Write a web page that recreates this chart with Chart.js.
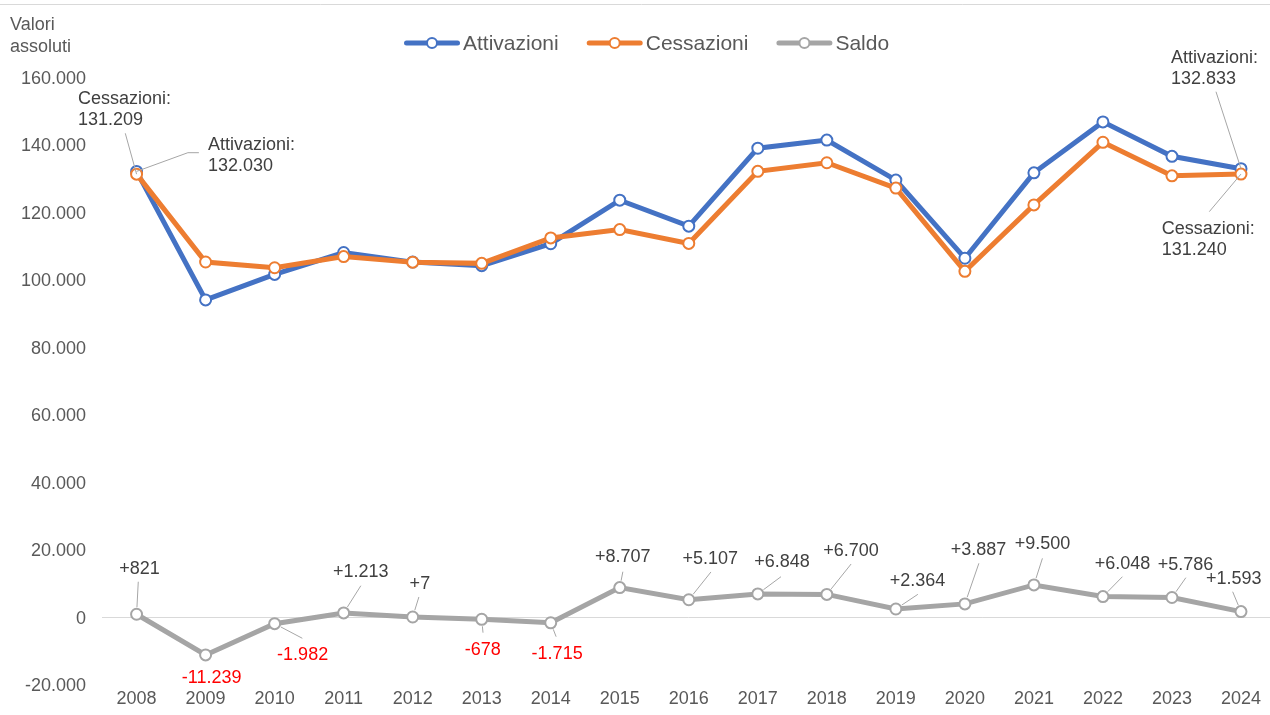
<!DOCTYPE html>
<html>
<head>
<meta charset="utf-8">
<script src="https://cdn.jsdelivr.net/npm/chart.js@4.4.1/dist/chart.umd.min.js"></script>
<style>
  html, body { margin: 0; padding: 0; background: #fff; overflow: hidden; }
  #box { position: relative; width: 1283px; height: 715px; }
</style>
</head>
<body>
<div id="box"><canvas id="grafico" width="1283" height="715"></canvas></div>
<script>
// Dati
const anni = ['2008', '2009', '2010', '2011', '2012', '2013', '2014', '2015', '2016',
              '2017', '2018', '2019', '2020', '2021', '2022', '2023', '2024'];
const attivazioni = [132030, 93950, 101500, 108000, 105150, 104100, 110600, 123500, 115800,
                     138900, 141300, 129450, 106300, 131600, 146700, 136500, 132833];
const cessazioni = [131209, 105189, 103482, 106787, 105143, 104778, 112315, 114793, 110693,
                    132052, 134600, 127086, 102413, 122100, 140652, 130714, 131240];
const saldo = [821, -11239, -1982, 1213, 7, -678, -1715, 8707, 5107,
               6848, 6700, 2364, 3887, 9500, 6048, 5786, 1593];

const nomiSerie = ['Attivazioni', 'Cessazioni', 'Saldo'];
const coloriSerie = ['#4472c4', '#ed7d31', '#a5a5a5'];

const yMin = -20000;
const yMax = 160000;
const yPasso = 20000;

// Posizione delle etichette del saldo rispetto al punto: [dx testo, dy testo, dx guida, dy guida]
const posSaldo = [
  [3, -46.5, 1.7, -32.5], [6, 21.8, null, null], [28, 30.3, 27.7, 14.6], [17.2, -41.9, 17.2, -27.2],
  [7.2, -34.3, 6.2, -20], [1.1, 29.7, 1.3, 13.4], [6.4, 30.2, 5.4, 13.9], [3.1, -31.6, 3.1, -15.9],
  [21.5, -41.8, 22.2, -27.8], [24.2, -33.2, 23.2, -17.2], [24.1, -44.4, 24.3, -30.4], [21.7, -29, 22, -14.7],
  [13.7, -54.9, 14, -40.6], [8.5, -42.2, 8.5, -26.6], [19.5, -33.9, 19.5, -19.9], [13.6, -33.5, 13.9, -19.8],
  [-7.3, -33.3, -8.3, -19.9]
];

// Etichette di inizio e fine per Attivazioni / Cessazioni
const etichetteEstremi = [
  { serie: 0, i: 0, dx: 71.3, dy: -27.4, guida: [[51.3, -18.7], [62.3, -18.7]] },
  { serie: 1, i: 0, dx: -58.7, dy: -75.9, guida: [[-11.3, -40.9]] },
  { serie: 0, i: 16, dx: -70, dy: -112, guida: [[-25, -77]] },
  { serie: 1, i: 16, dx: -79.3, dy: 54.2, guida: [[-31.7, 37.6]] }
];

const FONT = '"Liberation Sans", Arial, sans-serif';
Chart.defaults.font.family = FONT;

function formatta(v, segno) {
  const s = Math.abs(Math.round(v)).toString().replace(/\B(?=(\d{3})+(?!\d))/g, '.');
  if (v < 0) return '-' + s;
  if (segno && v > 0) return '+' + s;
  return s;
}

const pluginEtichette = {
  id: 'etichette',
  afterDatasetsDraw(chart) {
    const ctx = chart.ctx;
    ctx.save();
    ctx.font = '18px ' + FONT;
    ctx.textBaseline = 'middle';
    ctx.strokeStyle = '#a6a6a6';
    ctx.lineWidth = 1;

    // etichette saldo
    const metaS = chart.getDatasetMeta(2);
    saldo.forEach(function (v, i) {
      const p = metaS.data[i];
      const pos = posSaldo[i];
      if (pos[2] !== null) {
        const len = Math.hypot(pos[2], pos[3]);
        ctx.beginPath();
        ctx.moveTo(p.x + pos[2], p.y + pos[3]);
        ctx.lineTo(p.x + pos[2] / len * 7, p.y + pos[3] / len * 7);
        ctx.stroke();
      }
      ctx.fillStyle = v < 0 ? '#ff0000' : '#404040';
      ctx.textAlign = 'center';
      ctx.fillText(formatta(v, true), p.x + pos[0], p.y + pos[1] + 1);
    });

    // etichette estremi
    etichetteEstremi.forEach(function (e) {
      const p = chart.getDatasetMeta(e.serie).data[e.i];
      const valore = chart.data.datasets[e.serie].data[e.i];
      ctx.beginPath();
      ctx.moveTo(p.x, p.y);
      e.guida.forEach(function (g) { ctx.lineTo(p.x + g[0], p.y + g[1]); });
      ctx.stroke();
      ctx.fillStyle = '#404040';
      ctx.textAlign = 'left';
      ctx.fillText(nomiSerie[e.serie] + ':', p.x + e.dx, p.y + e.dy + 1);
      ctx.fillText(formatta(valore), p.x + e.dx, p.y + e.dy + 22);
    });
    ctx.restore();
  },
  afterDraw(chart) {
    const ctx = chart.ctx;
    ctx.save();
    // linea superiore
    ctx.strokeStyle = '#d9d9d9';
    ctx.lineWidth = 1;
    ctx.beginPath();
    ctx.moveTo(0, 4.5);
    ctx.lineTo(chart.width, 4.5);
    ctx.stroke();

    // titolo asse
    ctx.fillStyle = '#595959';
    ctx.font = '18px ' + FONT;
    ctx.textAlign = 'left';
    ctx.textBaseline = 'middle';
    ctx.fillText('Valori', 10, 25);
    ctx.fillText('assoluti', 10, 47);

    // legenda
    ctx.font = '21px ' + FONT;
    let x = 404;
    const y = 43;
    chart.data.datasets.forEach(function (ds) {
      ctx.strokeStyle = ds.borderColor;
      ctx.lineWidth = 5;
      ctx.lineCap = 'round';
      ctx.beginPath();
      ctx.moveTo(x + 2.5, y);
      ctx.lineTo(x + 53.5, y);
      ctx.stroke();
      ctx.lineWidth = 2;
      ctx.fillStyle = '#ffffff';
      ctx.beginPath();
      ctx.arc(x + 28, y, 5, 0, Math.PI * 2);
      ctx.fill();
      ctx.stroke();
      ctx.fillStyle = '#595959';
      ctx.fillText(ds.label, x + 59, y + 1);
      x += 59 + ctx.measureText(ds.label).width + 28;
    });
    ctx.restore();
  }
};

function serie(i, dati, ordine) {
  return {
    label: nomiSerie[i],
    data: dati,
    borderColor: coloriSerie[i],
    backgroundColor: '#ffffff',
    borderWidth: 5,
    pointRadius: 5.5,
    pointBorderWidth: 2,
    pointBackgroundColor: '#ffffff',
    pointBorderColor: coloriSerie[i],
    tension: 0,
    order: ordine
  };
}

const config = {
  type: 'line',
  data: {
    labels: anni,
    datasets: [
      serie(0, attivazioni, 3),
      serie(1, cessazioni, 2),
      serie(2, saldo, 1)
    ]
  },
  options: {
    responsive: false,
    animation: false,
    devicePixelRatio: 1,
    layout: { padding: { left: 5, top: 77, bottom: 0, right: 0 } },
    plugins: {
      legend: { display: false },
      tooltip: { enabled: false }
    },
    scales: {
      x: {
        offset: true,
        grid: { display: false, drawTicks: false },
        border: { display: false },
        ticks: { color: '#595959', font: { size: 18 }, padding: 4, maxRotation: 0, autoSkip: false },
        afterFit: function (scale) { scale.height = 30.5; }
      },
      y: {
        min: yMin,
        max: yMax,
        grid: {
          drawTicks: false,
          lineWidth: 1,
          color: function (c) { return c.tick && c.tick.value === 0 ? '#d9d9d9' : 'rgba(0,0,0,0)'; }
        },
        border: { display: false },
        ticks: {
          stepSize: yPasso,
          color: '#595959',
          font: { size: 18 },
          padding: 16,
          labelOffset: 2,
          callback: function (v) { return formatta(v); }
        }
      }
    }
  },
  plugins: [pluginEtichette]
};

new Chart(document.getElementById('grafico'), config);
</script>
</body>
</html>
